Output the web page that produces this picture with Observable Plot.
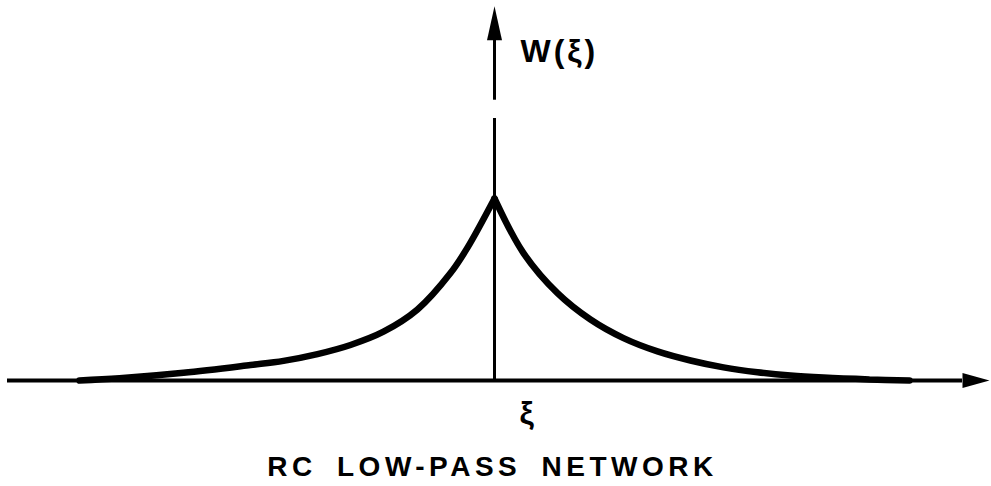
<!DOCTYPE html>
<html>
<head>
<meta charset="utf-8">
<script src="https://cdn.jsdelivr.net/npm/d3@7"></script>
<script src="https://cdn.jsdelivr.net/npm/@observablehq/plot@0.6"></script>
<style>
  html, body { margin: 0; padding: 0; background: #fff; }
  svg { display: block; }
</style>
</head>
<body>
<div id="chart"></div>
<script>
// Weighting function W(ξ) of an RC low-pass network: a two-sided decaying curve
// with a sharp peak at ξ = 0. Left and right branches are listed separately.
const xiLeft = [-4.15, -3.75, -3.11, -2.44, -2.11, -1.77, -1.44, -1.11, -0.77, -0.44, -0.27, 0];
const wLeft  = [0.0,   0.012, 0.042, 0.085, 0.108, 0.145, 0.195, 0.268, 0.39,  0.59,  0.73,  1.0];

const xiRight = [0, 0.29, 0.63, 0.96, 1.29, 1.63, 1.96, 2.29, 2.63, 2.96, 3.29, 3.75, 4.15];
const wRight  = [1.0, 0.70, 0.48, 0.335, 0.233, 0.16, 0.11, 0.072, 0.045, 0.027, 0.016, 0.006, 0.0];

// Axis extents in chart units
const xiAxisStart = -4.87;
const xiAxisEnd = 4.68;          // base of the ξ arrowhead
const wAxisLower = [0, 1.44];    // lower piece of the W axis
const wAxisUpper = [1.54, 1.87]; // upper piece, ending at the arrowhead

// Text
const yLabel = "W(ξ)";
const xLabel = "ξ";
const title = "RC LOW-PASS NETWORK";

const curve = [
  ...xiLeft.map((xi, i) => ({xi, w: wLeft[i], side: "left"})),
  ...xiRight.map((xi, i) => ({xi, w: wRight[i], side: "right"}))
];

// Filled arrowhead pointing up, with its base at the origin
const arrowHead = (len, half) => ({
  draw(ctx) {
    ctx.moveTo(0, -len);
    ctx.lineTo(half, 0);
    ctx.lineTo(-half, 0);
    ctx.closePath();
  }
});

const font = "Liberation Sans, DejaVu Sans, sans-serif";

const chart = Plot.plot({
  width: 991,
  height: 486,
  margin: 0,
  x: {domain: [-4.94, 4.97], range: [0, 991]},
  y: {domain: [0, 1], range: [380, 198]},
  axis: null,
  style: {background: "#fff"},
  marks: [
    // ξ axis
    Plot.ruleY([0], {x1: xiAxisStart, x2: xiAxisEnd, stroke: "#000", strokeWidth: 4}),
    Plot.dot([{xi: xiAxisEnd, w: 0}], {
      x: "xi", y: "w", r: 10, rotate: 90,
      symbol: arrowHead(27, 7.5), fill: "#000", stroke: "none"
    }),
    // W axis, drawn in two pieces with a short break
    Plot.ruleX([0], {y1: wAxisLower[0], y2: wAxisLower[1], stroke: "#000", strokeWidth: 3}),
    Plot.ruleX([0], {y1: wAxisUpper[0], y2: wAxisUpper[1], stroke: "#000", strokeWidth: 3}),
    Plot.dot([{xi: 0, w: wAxisUpper[1]}], {
      x: "xi", y: "w", r: 10,
      symbol: arrowHead(34, 7.5), fill: "#000", stroke: "none"
    }),
    // W(ξ) curve
    Plot.line(curve, {
      x: "xi", y: "w", z: "side", curve: "catmull-rom",
      stroke: "#000", strokeWidth: 6.5, strokeLinejoin: "miter", strokeLinecap: "round"
    }),
    // Labels
    Plot.text([yLabel], {
      x: 0.26, y: 1.808, text: d => d, textAnchor: "start", lineAnchor: "middle",
      fontSize: 32, fontWeight: "bold", fontFamily: font, fill: "#000"
    }),
    Plot.text([xLabel], {
      x: 0.32, y: -0.181, text: d => d, textAnchor: "middle", lineAnchor: "middle",
      fontSize: 32, fontWeight: "bold", fontFamily: font, fill: "#000"
    }),
    Plot.text([title], {
      x: -0.02, y: -0.478, text: d => d, textAnchor: "middle", lineAnchor: "middle",
      fontSize: 28, fontWeight: "bold", fontFamily: font, fill: "#000"
    })
  ]
});

// Lettering spacing for the labels
chart.querySelectorAll("text").forEach(t => {
  if (t.textContent === title) {
    t.setAttribute("letter-spacing", "4.5");
    t.setAttribute("word-spacing", "8");
  } else if (t.textContent === yLabel) {
    t.setAttribute("letter-spacing", "3");
  }
});

document.getElementById("chart").appendChild(chart);
</script>
</body>
</html>
